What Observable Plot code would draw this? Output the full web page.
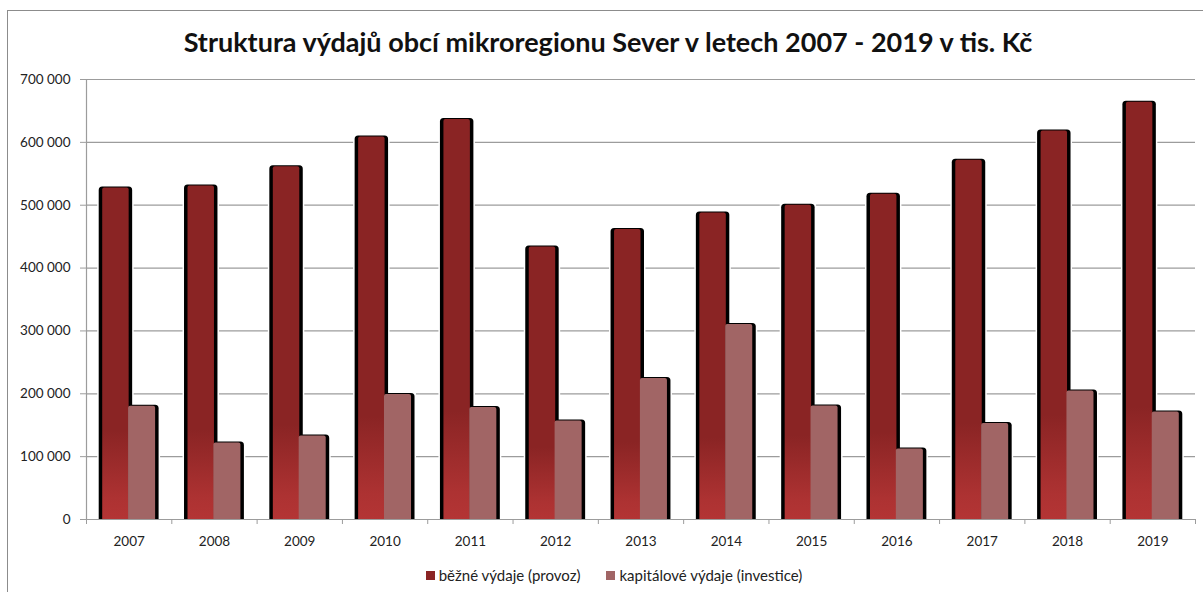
<!DOCTYPE html>
<html>
<head>
<meta charset="utf-8">
<script src="https://cdn.jsdelivr.net/npm/d3@7"></script>
<script src="https://cdn.jsdelivr.net/npm/@observablehq/plot@0.6"></script>
<style>
  html, body { margin: 0; padding: 0; background: #fff; }
  #wrap { position: relative; width: 1203px; height: 592px; overflow: hidden; background: #fff; font-family: Lato, "Open Sans", sans-serif; }
  #frame { position: absolute; left: 7px; top: 10px; right: -5px; bottom: -5px; border-left: 1px solid #8c8c8c; border-top: 1px solid #8c8c8c; }
  #title { position: absolute; left: 0; top: 28px; width: 1216px; text-align: center; font-weight: 700; font-size: 27px; line-height: 27px; color: #111; white-space: nowrap; }
  #chart { position: absolute; left: 0; top: 60px; }
  #legend { position: absolute; left: 0; top: 568px; width: 1228px; display: flex; justify-content: center; gap: 26px; font-size: 15px; line-height: 15px; color: #222; }
  #legend .item { display: flex; align-items: center; }
  #legend .sw { width: 9px; height: 9px; margin-right: 4px; }
</style>
</head>
<body>
<div id="wrap">
  <div id="frame"></div>
  <div id="title"></div>
  <div id="chart"></div>
  <div id="legend"></div>
</div>
<script>
const titleText = "Struktura výdajů obcí mikroregionu Sever v letech 2007 - 2019 v tis. Kč";
const seriesNames = ["běžné výdaje (provoz)", "kapitálové výdaje (investice)"];
const seriesColors = ["#8b2424", "#a16565"];
const years = [2007, 2008, 2009, 2010, 2011, 2012, 2013, 2014, 2015, 2016, 2017, 2018, 2019];
const currentExp = [527500, 530700, 561000, 608700, 636300, 433700, 461300, 487800, 500000, 517500, 571600, 618200, 663900];
const capitalExp = [180200, 121900, 133000, 198800, 178200, 156900, 224300, 310200, 180700, 112300, 152700, 204600, 171200];
const yTicks = [0, 100000, 200000, 300000, 400000, 500000, 600000, 700000];

document.getElementById("title").textContent = titleText;

const rows = years.map((year, i) => ({year, current: currentExp[i], capital: capitalExp[i]}));
const bounds = years.map(y => y - 0.5).concat([years[years.length - 1] + 0.5]);
const half = 0.31;
const fmt = d => d3.format(",")(d).replace(/,/g, " ");

const defs = () => {
  const d = d3.create("svg:defs");
  const g = d.append("linearGradient").attr("id", "gDark")
    .attr("x1", 0).attr("y1", 0).attr("x2", 0).attr("y2", 1);
  g.append("stop").attr("offset", "0").attr("stop-color", "#8a2424");
  g.append("stop").attr("offset", "0.72").attr("stop-color", "#8a2424");
  g.append("stop").attr("offset", "0.92").attr("stop-color", "#ad3232");
  g.append("stop").attr("offset", "1").attr("stop-color", "#b53535");
  return d.node();
};

const chart = Plot.plot({
  width: 1203,
  height: 490,
  marginTop: 19,
  marginBottom: 31,
  marginLeft: 86,
  marginRight: 8,
  x: {type: "linear", domain: [bounds[0], bounds[bounds.length - 1]]},
  y: {domain: [0, 700000]},
  style: {fontFamily: "Lato, 'Open Sans', sans-serif", fontSize: "13.5px", color: "#222", background: "transparent", overflow: "visible"},
  marks: [
    defs,
    Plot.gridY(yTicks, {stroke: "#9c9c9c", strokeOpacity: 1, strokeWidth: 1.2}),
    Plot.ruleX([bounds[0]], {stroke: "#9c9c9c", strokeWidth: 1.2}),
    Plot.axisY({ticks: yTicks, tickSize: 6, tickPadding: 10, stroke: "#9c9c9c", tickFormat: fmt, label: null}),
    Plot.axisX({ticks: bounds, tickSize: 5, tickFormat: () => "", stroke: "#9c9c9c", label: null}),
    Plot.axisX({ticks: years, tickSize: 0, tickPadding: 17, tickFormat: d => String(d), label: null}),
    // white halo (gap in gridlines)
    Plot.rect(rows, {x1: d => d.year - half, x2: d => d.year, y1: 0, y2: "current", fill: "#fff", insetLeft: -5, insetRight: -5, insetTop: -1, clip: true}),
    Plot.rect(rows, {x1: d => d.year, x2: d => d.year + half, y1: 0, y2: "capital", fill: "#fff", insetLeft: 0, insetRight: -5, insetTop: -1, clip: true}),
    // dark series: shadow + fill
    Plot.rect(rows, {x1: d => d.year - half, x2: d => d.year, y1: 0, y2: "current", fill: "#000", rx: 3.5, insetLeft: -3.5, insetRight: -3.5, insetTop: -1, insetBottom: -6, clip: true}),
    Plot.rect(rows, {x1: d => d.year - half, x2: d => d.year, y1: 0, y2: "current", fill: "url(#gDark)", rx: 2, insetBottom: -6, clip: true}),
    // light series: shadow + fill
    Plot.rect(rows, {x1: d => d.year, x2: d => d.year + half, y1: 0, y2: "capital", fill: "#000", rx: 3.5, insetLeft: 0, insetRight: -3.5, insetTop: -1, insetBottom: -6, clip: true}),
    Plot.rect(rows, {x1: d => d.year, x2: d => d.year + half, y1: 0, y2: "capital", fill: seriesColors[1], rx: 2, insetLeft: -0.6, insetBottom: -6, clip: true})
  ]
});
document.getElementById("chart").appendChild(chart);

const legend = document.getElementById("legend");
seriesNames.forEach((name, i) => {
  const item = document.createElement("div");
  item.className = "item";
  const sw = document.createElement("span");
  sw.className = "sw";
  sw.style.background = seriesColors[i];
  const t = document.createElement("span");
  t.textContent = name;
  item.appendChild(sw);
  item.appendChild(t);
  legend.appendChild(item);
});
</script>
</body>
</html>
